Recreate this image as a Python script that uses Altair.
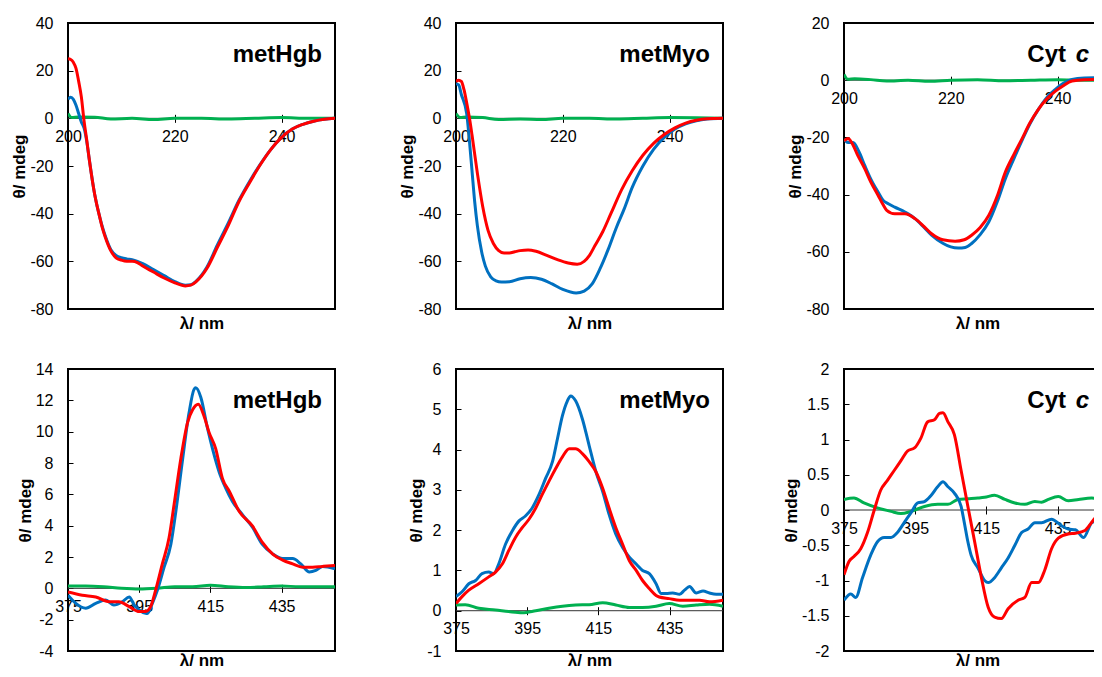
import altair as alt
import pandas as pd

FONT = "Liberation Sans, Arial, sans-serif"
BLUE, RED, GREEN = "#0070C0", "#FF0000", "#00B050"

# ---------------- Panel 1: metHgb, far UV ----------------
p1_blue_wl = [200, 200.5, 201, 201.5, 202, 202.5, 203, 203.5, 204, 205, 206, 206.5, 207, 208, 209, 210, 211, 212, 213, 214,
              216, 218, 220, 222, 223, 224, 226, 228, 230, 232, 234, 236, 238, 240, 242, 244, 246, 248, 250]
p1_blue = [8, 8.8, 8, 5.5, 2, -1.5, -4, -9.5, -17.5, -32, -42, -46, -49.5, -55, -57.5, -58.5, -59, -59.3, -60, -61,
           -63.5, -66, -68.5, -70, -69.8, -68.3, -62.5, -53, -44, -34.5, -26.5, -19.3, -13, -8, -4.5, -2.5, -1.2, -0.4, 0]
p1_red_wl = [200, 200.5, 201, 201.5, 202, 202.5, 203, 203.5, 204, 205, 206, 206.5, 207, 208, 209, 210, 211, 212, 213, 214,
             216, 218, 220, 222, 223, 224, 226, 228, 230, 232, 234, 236, 238, 240, 242, 244, 246, 248, 250]
p1_red = [25, 24.7, 23.5, 21, 15.5, 9, -1, -9, -17.5, -32, -42, -46.5, -50, -55.5, -58.5, -59.5, -60, -60, -60.5, -62,
          -64.5, -67, -69, -70.3, -70, -68.5, -63, -54, -45, -35, -27, -19.5, -13, -8, -4.5, -2.5, -1.2, -0.4, 0]
p1_green_wl = [200, 200.7, 202, 205, 208, 212, 216, 220, 225, 230, 235, 240, 245, 250]
p1_green = [2, 0.3, 0.6, 0.5, -0.3, 0, -0.5, 0, 0, -0.3, 0, 0.3, 0, 0]

# ---------------- Panel 2: metMyo, far UV ----------------
p2_blue_wl = [200, 200.5, 201, 202, 202.5, 203, 203.5, 204, 204.8, 205.5, 206.5, 207.5, 208.5, 210, 212, 214, 216, 218, 220,
              222.5, 224, 225.5, 227, 228.5, 230, 231.5, 233, 235, 237, 239, 241, 243, 245, 247, 250]
p2_blue = [14.5, 14, 10, 2, -9, -22, -35, -45, -56, -62, -66.5, -68.2, -68.7, -68.6, -67.3, -66.8, -67.5, -69.5, -71.8,
           -73.3, -72.5, -69.5, -63, -55, -46, -38, -29, -20, -13, -8, -4.5, -2.3, -1, -0.3, 0]
p2_red_wl = [200, 200.5, 201, 201.5, 202, 202.6, 203, 204, 205, 206, 207, 208, 209, 210, 211, 212, 213.5, 215, 217, 219,
             221, 222.7, 224, 225, 226, 227.5, 229, 231, 233, 235, 237, 239, 241, 243, 245, 247, 250]
p2_red = [15.5, 16, 15.5, 12, 6.5, -1, -7, -23, -37, -47, -52.5, -55.5, -56.5, -56.5, -56, -55.5, -55.2, -55.8, -57.5, -59.3,
          -60.7, -61.2, -60, -57.5, -53.5, -47.5, -40, -30, -22, -15.5, -10.5, -6.8, -4, -2, -0.8, -0.2, 0]
p2_green_wl = [200, 200.8, 202, 205, 208, 212, 216, 220, 225, 230, 235, 240, 245, 250]
p2_green = [2, 0.3, 0.6, 0.3, -0.5, -0.3, -0.5, 0, 0, -0.3, 0, 0.3, 0.2, 0]

# ---------------- Panel 3: Cyt c, far UV ----------------
p3_blue_wl = [200, 200.75, 201.7, 202.8, 203.9, 205, 206.4, 207.3, 208.3, 209.5, 211.4, 213.3, 215, 216.4, 218.5, 220,
              221.4, 222.7, 223.9, 225.5, 227.1, 228.7, 230.2, 231.8, 233.3, 234.8, 236.4, 238, 239.6, 241, 242.7, 245,
              247.7, 250]
p3_blue = [-20.6, -21.8, -21.8, -25, -29.9, -34.5, -39.2, -42, -43.2, -44.4, -46.1, -48.4, -51.5, -54.2, -57, -58.3,
           -58.7, -58.5, -57.1, -54, -49.6, -42.5, -34.5, -27.5, -21.2, -15.3, -10.2, -6, -3.2, -1.2, 0.3, 0.8,
           0.9, 0.9]
p3_red_wl = [200, 200.75, 201.5, 202.5, 203.9, 205, 206.4, 207.3, 208, 209.5, 211.4, 213.3, 215, 216.4, 218.5, 220.8,
             222.5, 223.9, 225.5, 227.1, 228.7, 230.2, 231.8, 233.3, 234.8, 236.4, 238, 239.6, 241, 242.7, 245, 248, 250]
p3_red = [-21.2, -20.4, -22, -26, -31, -35.5, -40.3, -43.5, -45.5, -46.7, -46.7, -48.4, -51.2, -53.7, -55.8, -56.3,
          -55.8, -54.2, -51.5, -47.3, -40.5, -32.2, -26, -20.6, -15, -10.2, -6.5, -3.8, -2, -0.3, 0.2, 0.3, 0.3]
p3_green_wl = [200, 200.7, 202, 205, 208, 212, 216, 220, 225, 230, 235, 240, 245, 250]
p3_green = [2, 0.3, 0.5, 0.2, -0.3, 0, -0.4, 0, 0.2, -0.2, 0, 0.2, 0, 0]

# ---------------- Panel 4: metHgb, Soret ----------------
p4_blue_wl = [375, 377.2, 380, 382.8, 385.6, 387.9, 390.3, 392.2, 393.6, 395, 396.8, 397.3, 398.7, 400.1, 402, 403.9,
              405.3, 407.1, 409, 410.4, 410.9, 412.3, 414.2, 415.6, 417.5, 419.3, 421.2, 424, 426.8, 429.6, 432.5,
              435.3, 438.1, 440.4, 442.8, 444.6, 446.5, 450]
p4_blue = [-0.44, -0.96, -1.27, -0.96, -0.75, -1.06, -0.85, -0.55, -1.06, -1.38, -1.59, -1.6, -0.96, -0.13, 1.35, 2.82,
           4.92, 8.08, 11.2, 12.7, 12.8, 12.2, 10.2, 8.9, 7.4, 6.4, 5.55, 4.7, 3.9, 2.8, 2.2,
           1.9, 1.9, 1.56, 1.04, 1.14, 1.4, 1.25]
p4_red_wl = [375, 379, 382.8, 386.5, 389.3, 392.2, 395, 396.8, 398.2, 399.6, 401.5, 403.4, 404.8, 406.7, 408.6, 410,
             411.6, 413.2, 414.6, 416.5, 418.4, 420.3, 423.1, 426.8, 429.6, 432.5, 435.3, 438.1, 440.9, 443.7, 446.5, 450]
p4_red = [-0.23, -0.44, -0.55, -0.85, -0.85, -1.17, -1.48, -1.48, -1.17, -0.13, 1.56, 3.24, 5.35, 8.29, 10.6, 11.4,
          11.75, 11.0, 9.97, 8.9, 7.0, 6.2, 4.9, 3.98, 2.93, 2.19, 1.8, 1.56, 1.35, 1.35, 1.4, 1.46]
p4_green_wl = [375, 380, 385, 390, 395, 400, 405, 410, 415, 420, 425, 430, 435, 440, 445, 450]
p4_green = [0.15, 0.15, 0.1, 0.0, -0.05, 0.0, 0.1, 0.1, 0.2, 0.1, 0.05, 0.1, 0.15, 0.1, 0.1, 0.1]

# ---------------- Panel 5: metMyo, Soret ----------------
p5_blue_wl = [375, 376.7, 378.6, 380.5, 382.3, 384.2, 385.6, 387, 388.9, 390.8, 392.7, 394.5, 396.4, 398.3, 400.2, 402.1,
              403.5, 404.9, 406.3, 407.2, 408.6, 410.5, 412.4, 414.3, 416.2, 418, 419.9, 421.8, 423.7, 425.6, 427.4,
              429.3, 431.2, 432.6, 434, 435.9, 437.8, 439.2, 440.6, 442.5, 444.4, 446.2, 448.1, 450]
p5_blue = [0.35, 0.47, 0.67, 0.75, 0.92, 0.96, 0.92, 1.16, 1.65, 1.98, 2.23, 2.35, 2.55, 2.88, 3.29, 3.7,
           4.27, 4.84, 5.21, 5.33, 5.21, 4.76, 4.1, 3.45, 2.96, 2.39, 1.9, 1.57, 1.33, 1.16, 1.0,
           0.92, 0.67, 0.43, 0.43, 0.44, 0.41, 0.51, 0.6, 0.44, 0.49, 0.44, 0.41, 0.41]
p5_red_wl = [375, 376.7, 378.6, 381.4, 384.2, 386.1, 388, 389.8, 391.7, 393.6, 395.5, 397.4, 399.2, 401.1, 403, 404.9,
             406.8, 408.6, 410.5, 412.4, 414.3, 416.2, 418, 419.9, 421.8, 423.7, 425.6, 427.4, 429.3, 431.2, 432.1,
             434.9, 437.8, 440.6, 443.4, 446.2, 450]
p5_red = [0.18, 0.35, 0.51, 0.67, 0.84, 0.96, 1.16, 1.49, 1.82, 2.06, 2.27, 2.55, 2.88, 3.21, 3.53, 3.82,
          4.02, 4.02, 3.9, 3.7, 3.45, 3.04, 2.55, 2.06, 1.65, 1.24, 1.0, 0.75, 0.55, 0.38, 0.34,
          0.30, 0.26, 0.26, 0.26, 0.22, 0.26]
p5_green_wl = [375, 377.6, 381.4, 386.1, 389.8, 393.6, 397.4, 401.1, 404.9, 408.6, 412.4, 416.2, 419.9, 423.7, 427.4,
               431.2, 434.9, 438.7, 442.5, 446.2, 450]
p5_green = [0.14, 0.15, 0.06, 0.02, -0.02, -0.05, 0, 0.06, 0.11, 0.14, 0.15, 0.2, 0.14, 0.08, 0.08,
            0.11, 0.18, 0.11, 0.14, 0.16, 0.11]

# ---------------- Panel 6: Cyt c, Soret ----------------
p6_blue_wl = [375, 376.9, 378.3, 380.2, 382.5, 384.4, 386.3, 388.2, 390, 391.9, 393.8, 395.7, 397.6, 399.5, 401.3, 402.8,
              404.2, 406, 407.9, 408.8, 409.8, 410.7, 412.6, 414.5, 415.5, 417.3, 419.2, 421.1, 423, 424.9, 426.7,
              428.6, 430.5, 433.3, 436, 438, 440, 442.3, 444.6, 446.5, 448, 450]
p6_blue = [-1.28, -1.19, -1.24, -0.96, -0.64, -0.45, -0.39, -0.39, -0.32, -0.18, -0.04, 0.1, 0.12, 0.21, 0.33, 0.40,
           0.33, 0.24, 0.05, -0.18, -0.45, -0.64, -0.82, -1.0, -1.03, -0.96, -0.82, -0.68, -0.50, -0.32, -0.27,
           -0.18, -0.18, -0.13, -0.22, -0.27, -0.28, -0.39, -0.18, -0.15, -0.15, -0.15]
p6_red_wl = [375, 376.4, 377.8, 379.7, 381.6, 383.5, 385.3, 387.2, 389.1, 391, 392.9, 394.8, 396.6, 398.5, 400.4, 401.8,
             402.8, 404.2, 406, 407.9, 409.8, 411.7, 413.6, 415.5, 417.3, 419.2, 421.1, 423.9, 425.8, 427.7, 429.6,
             431.4, 433.3, 435.2, 438, 440, 442.7, 444.5, 445.6, 447, 450]
p6_red = [-0.92, -0.73, -0.66, -0.55, -0.32, 0.0, 0.28, 0.42, 0.56, 0.70, 0.84, 0.88, 1.02, 1.25, 1.28, 1.37,
          1.38, 1.25, 1.07, 0.56, 0.05, -0.45, -0.96, -1.38, -1.52, -1.54, -1.4, -1.28, -1.24, -1.03, -1.03,
          -0.85, -0.55, -0.4, -0.34, -0.33, -0.29, -0.18, -0.11, -0.08, -0.1]
p6_green_wl = [375, 377.8, 380.6, 384.4, 388.2, 391, 393.8, 397.6, 401.3, 404.2, 407, 409.8, 412.6, 414.5, 417.3, 420.2,
               423, 425.8, 428.6, 430.5, 432.4, 435.2, 438, 440.9, 444.6, 447, 450]
p6_green = [0.15, 0.17, 0.1, 0.03, -0.02, -0.05, -0.02, 0.05, 0.08, 0.08, 0.15, 0.16, 0.17, 0.18, 0.21, 0.15,
            0.1, 0.08, 0.12, 0.11, 0.15, 0.19, 0.13, 0.15, 0.17, 0.15, 0.15]

# axis ticks / domains
uv_domain, uv_ticks = [200, 250], [200, 220, 240]
soret_domain, soret_ticks = [375, 450], [375, 395, 415, 435]
y1_dom, y1_ticks = [-80, 40], [-80, -60, -40, -20, 0, 20, 40]
y2_dom, y2_ticks = [-80, 40], [-80, -60, -40, -20, 0, 20, 40]
y3_dom, y3_ticks = [-80, 20], [-80, -60, -40, -20, 0, 20]
y4_dom, y4_ticks = [-4, 14], [-4, -2, 0, 2, 4, 6, 8, 10, 12, 14]
y5_dom, y5_ticks = [-1, 6], [-1, 0, 1, 2, 3, 4, 5, 6]
y6_dom, y6_ticks = [-2, 2], [-2, -1.5, -1, -0.5, 0, 0.5, 1, 1.5, 2]

W = 267


def make_df(blue_wl, blue, red_wl, red, green_wl, green):
    rows = []
    for name, wl, v in (("blue", blue_wl, blue), ("red", red_wl, red), ("green", green_wl, green)):
        assert len(wl) == len(v), (name, len(wl), len(v))
        for a, b in zip(wl, v):
            rows.append({"wl": a, "v": b, "s": name})
    return pd.DataFrame(rows)


def panel(df, xdom, xticks, ydom, yticks, H, label, italic=None, title_gap=6, label_right=13):
    y0 = H * ydom[1] / (ydom[1] - ydom[0])
    xoff = (y0 - 4) - H
    xaxis = alt.Axis(values=xticks, domain=False, grid=False, tickSize=8, tickColor="black", tickWidth=1,
                     offset=xoff, labelPadding=6, labelFontSize=16, labelFont=FONT, labelColor="black",
                     labelFlush=False, labelOverlap=False, labelExpr="'' + datum.value",
                     title="λ/ nm", titleFont=FONT, titleFontSize=17, titleFontWeight="bold",
                     titleColor="black", titleY=title_gap - xoff, titleBaseline="top")
    yaxis = alt.Axis(values=yticks, domain=False, grid=False, tickSize=5, tickColor="black", tickWidth=1,
                     offset=-5, labelPadding=15, labelFontSize=16, labelFont=FONT, labelColor="black",
                     labelFlush=False, labelOverlap=False, labelExpr="'' + datum.value",
                     title="θ/ mdeg", titleFont=FONT, titleFontSize=17, titleFontWeight="bold",
                     titleColor="black", titlePadding=1)
    X = alt.X("wl:Q", scale=alt.Scale(domain=xdom, nice=False, zero=False), axis=xaxis)
    Y = alt.Y("v:Q", scale=alt.Scale(domain=ydom, nice=False, zero=False), axis=yaxis)
    zero = alt.Chart(pd.DataFrame({"v": [0]})).mark_rule(color="#333333", strokeWidth=1).encode(y=Y)
    layers = [zero]
    base = alt.Chart(df)
    for name, color in (("green", GREEN), ("blue", BLUE), ("red", RED)):
        layers.append(
            base.transform_filter(alt.datum.s == name)
            .mark_line(color=color, strokeWidth=3, interpolate="monotone", clip=True)
            .encode(x=X, y=Y)
        )
    txt = dict(baseline="alphabetic", fontSize=24, fontWeight="bold", font=FONT, color="black", align="right")
    if italic is None:
        layers.append(alt.Chart(pd.DataFrame({"t": [label]})).mark_text(**txt)
                      .encode(x=alt.value(W - label_right), y=alt.value(39), text="t:N"))
    else:
        layers.append(alt.Chart(pd.DataFrame({"t": [label]})).mark_text(**txt)
                      .encode(x=alt.value(W - label_right - 23), y=alt.value(39), text="t:N"))
        layers.append(alt.Chart(pd.DataFrame({"t": [italic]})).mark_text(fontStyle="italic", **txt)
                      .encode(x=alt.value(W - label_right), y=alt.value(39), text="t:N"))
    return alt.layer(*layers).properties(width=W, height=H)


H1, H2 = 286, 282
c1 = panel(make_df(p1_blue_wl, p1_blue, p1_red_wl, p1_red, p1_green_wl, p1_green),
           uv_domain, uv_ticks, y1_dom, y1_ticks, H1, "metHgb")
c2 = panel(make_df(p2_blue_wl, p2_blue, p2_red_wl, p2_red, p2_green_wl, p2_green),
           uv_domain, uv_ticks, y2_dom, y2_ticks, H1, "metMyo")
c3 = panel(make_df(p3_blue_wl, p3_blue, p3_red_wl, p3_red, p3_green_wl, p3_green),
           uv_domain, uv_ticks, y3_dom, y3_ticks, H1, "Cyt", "c", label_right=22)
c4 = panel(make_df(p4_blue_wl, p4_blue, p4_red_wl, p4_red, p4_green_wl, p4_green),
           soret_domain, soret_ticks, y4_dom, y4_ticks, H2, "metHgb", title_gap=1)
c5 = panel(make_df(p5_blue_wl, p5_blue, p5_red_wl, p5_red, p5_green_wl, p5_green),
           soret_domain, soret_ticks, y5_dom, y5_ticks, H2, "metMyo", title_gap=1)
c6 = panel(make_df(p6_blue_wl, p6_blue, p6_red_wl, p6_red, p6_green_wl, p6_green),
           soret_domain, soret_ticks, y6_dom, y6_ticks, H2, "Cyt", "c", title_gap=1, label_right=22)

chart = (
    alt.concat(c1, c2, c3, c4, c5, c6, columns=3, spacing={"row": 60, "column": 121}, bounds="flush")
    .properties(padding={"left": 1, "top": 6, "right": -19, "bottom": 0}, background="white")
    .configure_view(stroke="black", strokeWidth=2)
)

chart.save("out.html", embed_options={"renderer": "svg", "actions": False})
